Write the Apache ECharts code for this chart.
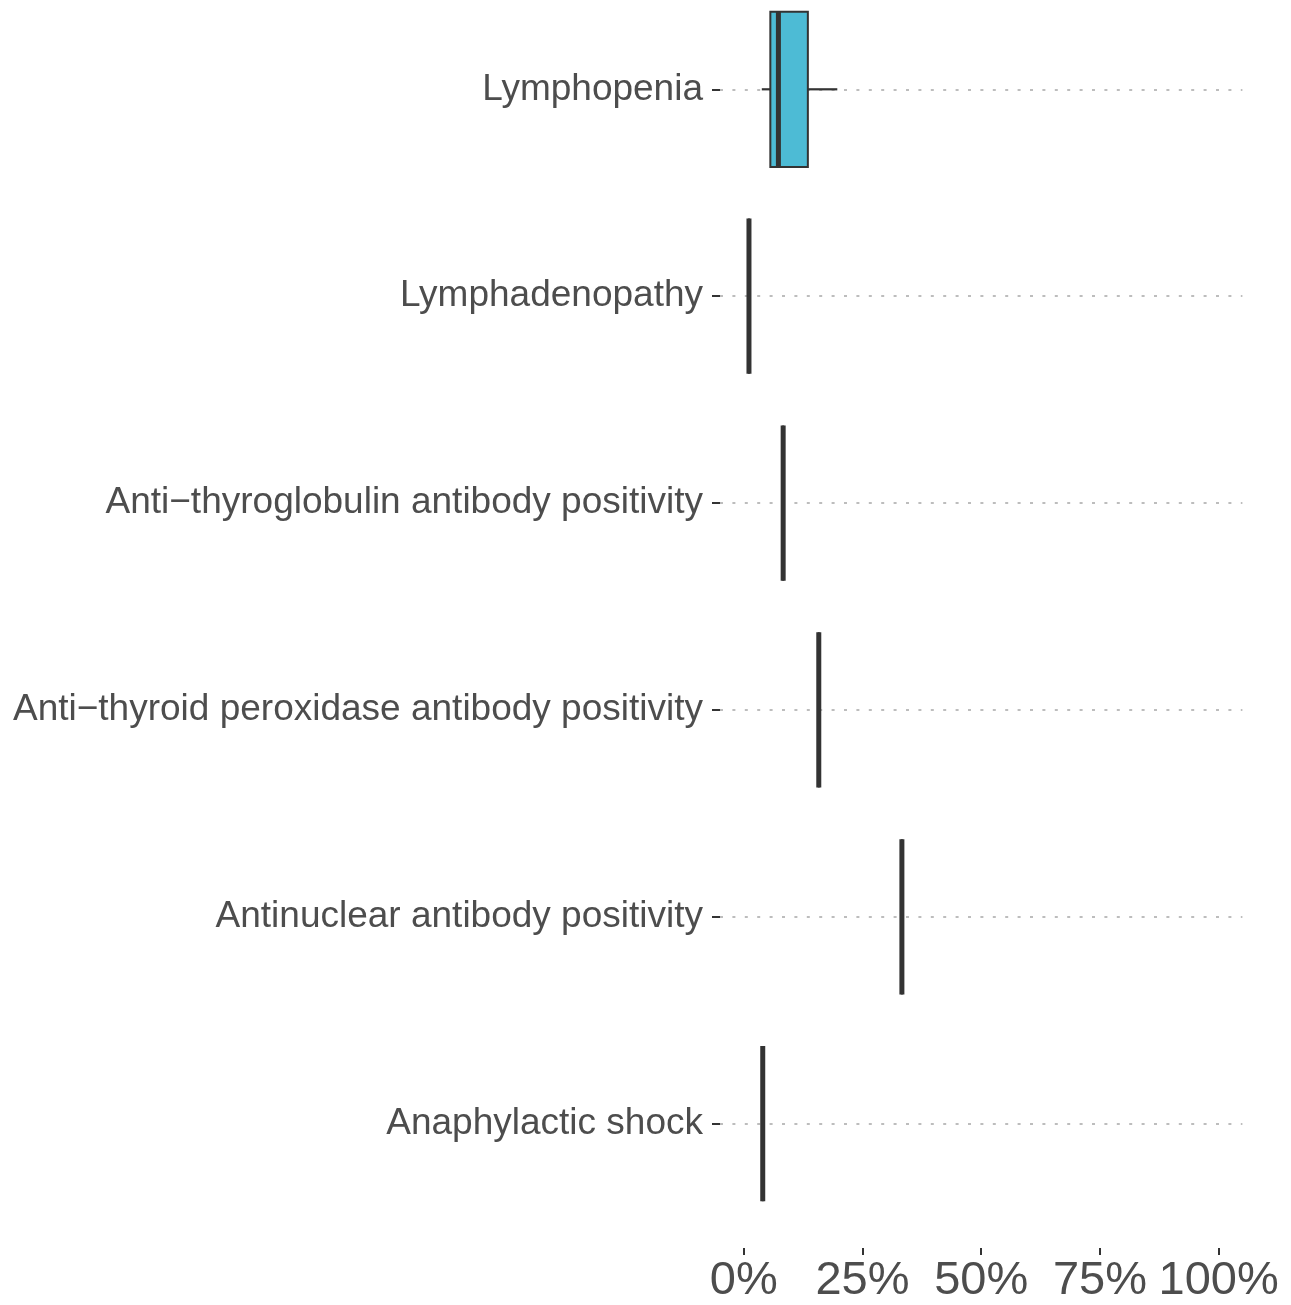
<!DOCTYPE html>
<html>
<head>
<meta charset="utf-8">
<script src="https://cdn.jsdelivr.net/npm/echarts@6/dist/echarts.min.js"></script>
<style>
html,body{margin:0;padding:0;background:#fff;}
#chart{width:1291px;height:1305px;}
</style>
</head>
<body>
<div id="chart"></div>
<script>
const categories = [
  'Lymphopenia',
  'Lymphadenopathy',
  'Anti\u2212thyroglobulin antibody positivity',
  'Anti\u2212thyroid peroxidase antibody positivity',
  'Antinuclear antibody positivity',
  'Anaphylactic shock'
];
const whiskerLow  = [3.8, 1.1, 8.3, 15.8, 33.3, 4.0];
const q1          = [5.6, 1.1, 8.3, 15.8, 33.3, 4.0];
const median      = [7.3, 1.1, 8.3, 15.8, 33.3, 4.0];
const q3          = [13.5, 1.1, 8.3, 15.8, 33.3, 4.0];
const whiskerHigh = [19.7, 1.1, 8.3, 15.8, 33.3, 4.0];
const xTicks = [0, 25, 50, 75, 100];

const boxData = categories.map((c, i) => [i, whiskerLow[i], q1[i], median[i], q3[i], whiskerHigh[i]]);

const FONT = "'Liberation Sans', Arial, sans-serif";
const chart = echarts.init(document.getElementById('chart'), null, {renderer: 'canvas'});

chart.setOption({
  animation: false,
  backgroundColor: '#ffffff',
  grid: {left: 720, right: 48.6, top: 89.3, bottom: 179.7, containLabel: false},
  xAxis: {
    type: 'value',
    min: -5,
    max: 105,
    position: 'bottom',
    offset: 124.3,
    axisLine: {show: false, onZero: false},
    axisTick: {show: true, customValues: xTicks, length: 7, lineStyle: {color: '#333333', width: 2}},
    axisLabel: {
      customValues: xTicks,
      formatter: '{value}%',
      fontSize: 47,
      color: '#4D4D4D',
      fontFamily: FONT,
      margin: 10
    },
    splitLine: {show: false}
  },
  yAxis: {
    type: 'category',
    data: categories,
    inverse: true,
    boundaryGap: false,
    position: 'left',
    axisLine: {show: false, onZero: false},
    axisTick: {show: true, length: 8, lineStyle: {color: '#333333', width: 2}},
    axisLabel: {fontSize: 37, color: '#4D4D4D', fontFamily: FONT, margin: 17, padding: [8, 0, 0, 0]},
    splitLine: {show: true, lineStyle: {color: '#BDBDBD', width: 2, type: [3, 9.4]}}
  },
  series: [{
    type: 'custom',
    clip: false,
    encode: {x: [1, 2, 3, 4, 5], y: 0},
    data: boxData,
    renderItem: function (params, api) {
      const idx = api.value(0);
      const band = api.size([0, 1])[1];
      const h = band * 0.75;
      const pLo = api.coord([api.value(1), idx]);
      const pQ1 = api.coord([api.value(2), idx]);
      const pMed = api.coord([api.value(3), idx]);
      const pQ3 = api.coord([api.value(4), idx]);
      const pHi = api.coord([api.value(5), idx]);
      const yc = pQ1[1];
      const stroke = '#333333';
      return {
        type: 'group',
        children: [
          {type: 'line', shape: {x1: pLo[0], y1: yc, x2: pQ1[0], y2: yc}, style: {stroke: stroke, lineWidth: 2.2}},
          {type: 'line', shape: {x1: pQ3[0], y1: yc, x2: pHi[0], y2: yc}, style: {stroke: stroke, lineWidth: 2.2}},
          {type: 'rect', shape: {x: pQ1[0], y: yc - h / 2, width: pQ3[0] - pQ1[0], height: h},
           style: {fill: '#4DBBD5', stroke: stroke, lineWidth: 2}},
          {type: 'line', shape: {x1: pMed[0], y1: yc - h / 2, x2: pMed[0], y2: yc + h / 2},
           style: {stroke: stroke, lineWidth: 5}}
        ]
      };
    }
  }]
});
</script>
</body>
</html>
